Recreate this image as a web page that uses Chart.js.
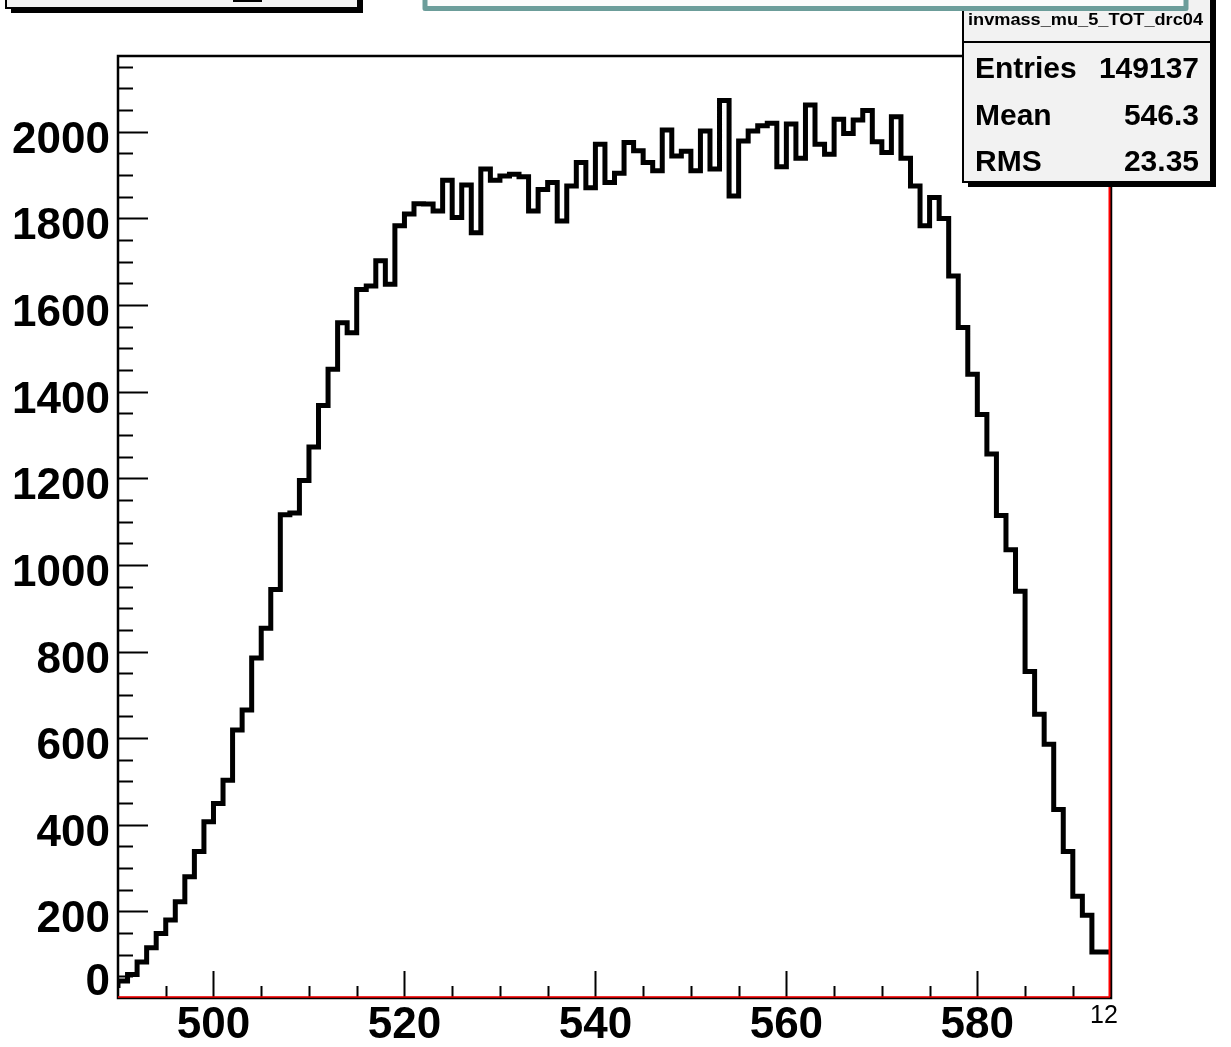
<!DOCTYPE html>
<html>
<head>
<meta charset="utf-8">
<script src="https://cdn.jsdelivr.net/npm/chart.js@4.4.0/dist/chart.umd.min.js"></script>
<style>
  html, body { margin: 0; padding: 0; background: #fff; }
  #wrap { width: 1231px; height: 1047px; }
</style>
</head>
<body>
<div id="wrap"><canvas id="grafico" width="1231" height="1047"></canvas></div>
<script>
// istogramma invmass_mu_5_TOT_drc04, bin da 1 tra 490 e 594
const binLow = 490;
const binWidth = 1;
const counts = [
  23, 39, 54, 83, 116, 149, 180, 222, 280, 338,
  407, 449, 503, 619, 665, 785, 854, 943, 1116, 1120,
  1195, 1272, 1368, 1452, 1559, 1536, 1636, 1644, 1702, 1648,
  1783, 1810, 1834, 1833, 1817, 1888, 1802, 1877, 1767, 1914,
  1888, 1898, 1902, 1896, 1817, 1867, 1883, 1794, 1875, 1929,
  1871, 1971, 1883, 1904, 1975, 1956, 1929, 1910, 2004, 1944,
  1955, 1910, 2002, 1914, 2072, 1852, 1979, 2002, 2014, 2020,
  1919, 2018, 1939, 2062, 1971, 1948, 2029, 1996, 2027, 2049,
  1977, 1952, 2035, 1939, 1875, 1783, 1848, 1800, 1667, 1548,
  1440, 1347, 1256, 1114, 1035, 939, 754, 655, 586, 435,
  338, 235, 191, 106
];
const xTickLabels = [500, 520, 540, 560, 580];
const yTickLabels = [0, 200, 400, 600, 800, 1000, 1200, 1400, 1600, 1800, 2000];
const cornerLabel = "12";
const histName = "invmass_mu_5_TOT_drc04";
const statsNames = ["Entries", "Mean", "RMS"];
const statsValues = ["149137", "546.3", "23.35"];

const FONT = '"Liberation Sans", Arial, Helvetica, sans-serif';

// punti sui bordi sinistri dei bin + bordo destro finale
const punti = counts.map((c, i) => ({ x: binLow + i * binWidth, y: c }));
punti.push({ x: binLow + counts.length * binWidth, y: counts[counts.length - 1] });

function linea(ctx, x1, y1, x2, y2) {
  ctx.beginPath();
  ctx.moveTo(x1, y1);
  ctx.lineTo(x2, y2);
  ctx.stroke();
}

// box con ombra stile ROOT
function boxOmbra(ctx, x1, y1, x2, y2, fill) {
  ctx.fillStyle = "#000";
  ctx.fillRect(x1 + 5, y1 + 5, x2 - x1, y2 - y1);
  ctx.fillStyle = fill;
  ctx.fillRect(x1, y1, x2 - x1, y2 - y1);
  ctx.strokeStyle = "#000";
  ctx.lineWidth = 2;
  ctx.strokeRect(x1, y1, x2 - x1, y2 - y1);
}

const rootStyle = {
  id: "rootStyle",
  afterDatasetsDraw(chart) {
    const { ctx, chartArea: a, scales } = chart;
    const x = scales.x, y = scales.y;
    ctx.save();

    // cornice
    ctx.strokeStyle = "#000";
    ctx.lineWidth = 2.5;
    ctx.strokeRect(a.left, a.top, a.right - a.left, a.bottom - a.top);

    // tacche asse y (verso l'interno)
    ctx.lineWidth = 2;
    const yStep = (yTickLabels[1] - yTickLabels[0]) / 4;
    for (let v = yStep; v < y.max; v += yStep) {
      const py = Math.round(y.getPixelForValue(v)) + 0.5;
      const major = v % (yStep * 4) === 0;
      linea(ctx, a.left, py, a.left + (major ? 30 : 15), py);
    }
    // tacche asse x
    const xStep = (xTickLabels[1] - xTickLabels[0]) / 4;
    for (let v = xTickLabels[0] - xStep; v < x.max; v += xStep) {
      const px = Math.round(x.getPixelForValue(v)) + 0.5;
      const major = xTickLabels.includes(v);
      linea(ctx, px, a.bottom, px, a.bottom - (major ? 27 : 12));
    }

    // linea rossa su bordo inferiore e destro
    ctx.strokeStyle = "#ff0000";
    ctx.lineWidth = 1.5;
    linea(ctx, a.left, a.bottom - 1, a.right - 1, a.bottom - 1);
    ctx.lineWidth = 2;
    linea(ctx, a.right - 1.5, a.top, a.right - 1.5, a.bottom - 1);

    // etichette
    ctx.fillStyle = "#000";
    ctx.font = "bold 44px " + FONT;
    ctx.textAlign = "right";
    ctx.textBaseline = "alphabetic";
    yTickLabels.forEach(v => {
      const py = y.getPixelForValue(v);
      // ROOT alza lo zero per non toccare le etichette x
      ctx.fillText(String(v), 110, v === 0 ? py - 3 : py + 21);
    });
    ctx.textAlign = "center";
    xTickLabels.forEach(v => {
      ctx.fillText(String(v), x.getPixelForValue(v), a.bottom + 40);
    });
    ctx.font = "25px " + FONT;
    ctx.textAlign = "left";
    ctx.fillText(cornerLabel, a.right - 21, a.bottom + 25);

    // box in alto a sinistra (tagliato)
    boxOmbra(ctx, 6, -20, 358, 8, "#f2f2f2");
    ctx.fillStyle = "#000";
    ctx.fillRect(233, 0, 29, 2);

    // box statistiche
    boxOmbra(ctx, 963, -20, 1211, 182, "#f2f2f2");
    ctx.lineWidth = 2;
    linea(ctx, 963, 42, 1211, 42);
    ctx.fillStyle = "#000";
    ctx.font = "bold 17px " + FONT;
    ctx.textAlign = "left";
    const w = ctx.measureText(histName).width;
    ctx.save();
    ctx.translate(968, 25);
    ctx.scale(235 / w, 1);
    ctx.fillText(histName, 0, 0);
    ctx.restore();
    ctx.font = "bold 30px " + FONT;
    statsNames.forEach((n, i) => {
      const by = 78 + i * 46.5;
      ctx.textAlign = "left";
      ctx.fillText(n, 975, by);
      ctx.textAlign = "right";
      ctx.fillText(statsValues[i], 1199, by);
    });

    // box teal in alto
    ctx.fillStyle = "#fbfbfb";
    ctx.fillRect(425, -20, 761, 28.5);
    ctx.strokeStyle = "#6c9d9a";
    ctx.lineWidth = 5;
    ctx.lineJoin = "round";
    ctx.strokeRect(425, -20, 761, 28.5);

    ctx.restore();
  }
};

document.addEventListener("DOMContentLoaded", function () {
  const ctx = document.getElementById("grafico").getContext("2d");
  new Chart(ctx, {
    type: "line",
    data: {
      datasets: [{
        data: punti,
        stepped: "after",
        borderColor: "#000",
        borderWidth: 5,
        borderJoinStyle: "miter",
        borderCapStyle: "butt",
        pointRadius: 0,
        fill: false
      }]
    },
    options: {
      responsive: false,
      animation: false,
      devicePixelRatio: 1,
      layout: { padding: { left: 118, right: 120, top: 56, bottom: 49 } },
      plugins: { legend: { display: false }, tooltip: { enabled: false } },
      scales: {
        x: { type: "linear", min: binLow, max: binLow + counts.length * binWidth, display: false },
        y: { min: 0, max: 2175, display: false }
      }
    },
    plugins: [rootStyle]
  });
});
</script>
</body>
</html>
